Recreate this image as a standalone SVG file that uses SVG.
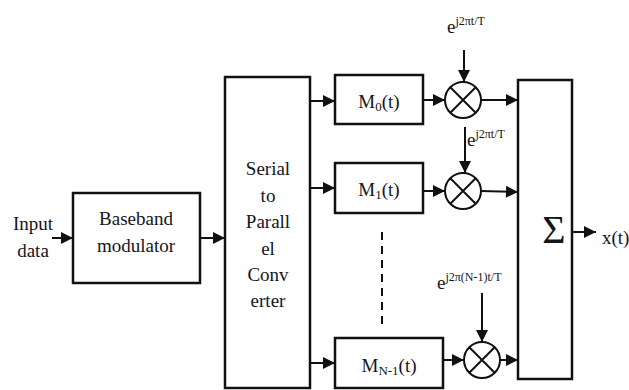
<svg xmlns="http://www.w3.org/2000/svg" width="629" height="390" viewBox="0 0 629 390">
<style>
.box{fill:#fff;stroke:#111;stroke-width:2.5}
.ln{stroke:#111;stroke-width:2;fill:none}
.mul{fill:#fff;stroke:#111;stroke-width:2}
.t{font-family:"Liberation Serif","Times New Roman",serif;font-size:19px;fill:#151520}
.c{text-anchor:middle}
.sup{font-size:12px}
</style>
<defs>
<marker id="ah" viewBox="0 0 10 10" refX="10" refY="5" markerWidth="13" markerHeight="12" markerUnits="userSpaceOnUse" orient="auto">
<path d="M0,0L10,5L0,10z" fill="#111"/>
</marker>
</defs>
<rect width="629" height="390" fill="#fff"/>
<g id="connectors">
<line class="ln" x1="52" y1="238" x2="73" y2="238" marker-end="url(#ah)"/>
<line class="ln" x1="200" y1="238" x2="225" y2="238" marker-end="url(#ah)"/>
<line class="ln" x1="310" y1="101" x2="335" y2="101" marker-end="url(#ah)"/>
<line class="ln" x1="310" y1="188" x2="335" y2="188" marker-end="url(#ah)"/>
<line class="ln" x1="310" y1="363" x2="335" y2="363" marker-end="url(#ah)"/>
<line class="ln" x1="423" y1="100" x2="445" y2="100" marker-end="url(#ah)"/>
<line class="ln" x1="423" y1="191" x2="445" y2="191" marker-end="url(#ah)"/>
<line class="ln" x1="443" y1="360" x2="464" y2="360" marker-end="url(#ah)"/>
<line class="ln" x1="481" y1="100" x2="518" y2="100" marker-end="url(#ah)"/>
<line class="ln" x1="481" y1="191" x2="518" y2="192" marker-end="url(#ah)"/>
<line class="ln" x1="500" y1="360" x2="518" y2="360" marker-end="url(#ah)"/>
<line class="ln" x1="464" y1="50" x2="464" y2="82" marker-end="url(#ah)"/>
<line class="ln" x1="465" y1="127" x2="465" y2="173" marker-end="url(#ah)"/>
<line class="ln" x1="482" y1="293" x2="482" y2="342" marker-end="url(#ah)"/>
<line class="ln" x1="572" y1="232" x2="596" y2="232" marker-end="url(#ah)"/>
<line class="ln" x1="382" y1="232" x2="382" y2="325" stroke-dasharray="8,6"/>
</g>
<g id="input">
<text class="t c" x="33" y="230">Input</text>
<text class="t c" x="33" y="257">data</text>
</g>
<g id="baseband">
<rect class="box" x="73" y="193" width="127" height="90"/>
<text class="t c" x="136" y="225">Baseband</text>
<text class="t c" x="136" y="252">modulator</text>
</g>
<g id="sp">
<rect class="box" x="225" y="77" width="85" height="311"/>
<text class="t c" x="268" y="175">Serial</text>
<text class="t c" x="268" y="202">to</text>
<text class="t c" x="268" y="228">Parall</text>
<text class="t c" x="268" y="255">el</text>
<text class="t c" x="268" y="281">Conv</text>
<text class="t c" x="268" y="307">erter</text>
</g>
<g id="m0">
<rect class="box" x="335" y="75" width="88" height="49"/>
<text class="t c" x="379" y="108">M<tspan font-size="13" dy="3">0</tspan><tspan dy="-3">(t)</tspan></text>
</g>
<g id="m1">
<rect class="box" x="335" y="163" width="88" height="50"/>
<text class="t c" x="379" y="196">M<tspan font-size="13" dy="3">1</tspan><tspan dy="-3">(t)</tspan></text>
</g>
<g id="mn1">
<rect class="box" x="335" y="338" width="108" height="50"/>
<text class="t c" x="389" y="372">M<tspan font-size="13" dy="3">N-1</tspan><tspan dy="-3">(t)</tspan></text>
</g>
<g id="mult0">
<circle class="mul" cx="463" cy="100" r="18"/>
<path class="ln" d="M450.3,87.3L475.7,112.7M475.7,87.3L450.3,112.7"/>
</g>
<g id="mult1">
<circle class="mul" cx="463" cy="191" r="18"/>
<path class="ln" d="M450.3,178.3L475.7,203.7M475.7,178.3L450.3,203.7"/>
</g>
<g id="multN">
<circle class="mul" cx="482" cy="360" r="18"/>
<path class="ln" d="M469.3,347.3L494.7,372.7M494.7,347.3L469.3,372.7"/>
</g>
<g id="exp0">
<text class="t" x="447" y="33">e<tspan class="sup" dy="-8">j2πt/T</tspan></text>
</g>
<g id="exp1">
<text class="t" x="467" y="146">e<tspan class="sup" dy="-8">j2πt/T</tspan></text>
</g>
<g id="expN">
<text class="t" x="437" y="289">e<tspan class="sup" dy="-8">j2π(N-1)t/T</tspan></text>
</g>
<g id="sum">
<rect class="box" x="518" y="80" width="54" height="299"/>
<text class="t c" x="554" y="243" font-size="40" style="font-size:40px">Σ</text>
</g>
<g id="output">
<text class="t" x="602" y="244">x(t)</text>
</g>
</svg>
